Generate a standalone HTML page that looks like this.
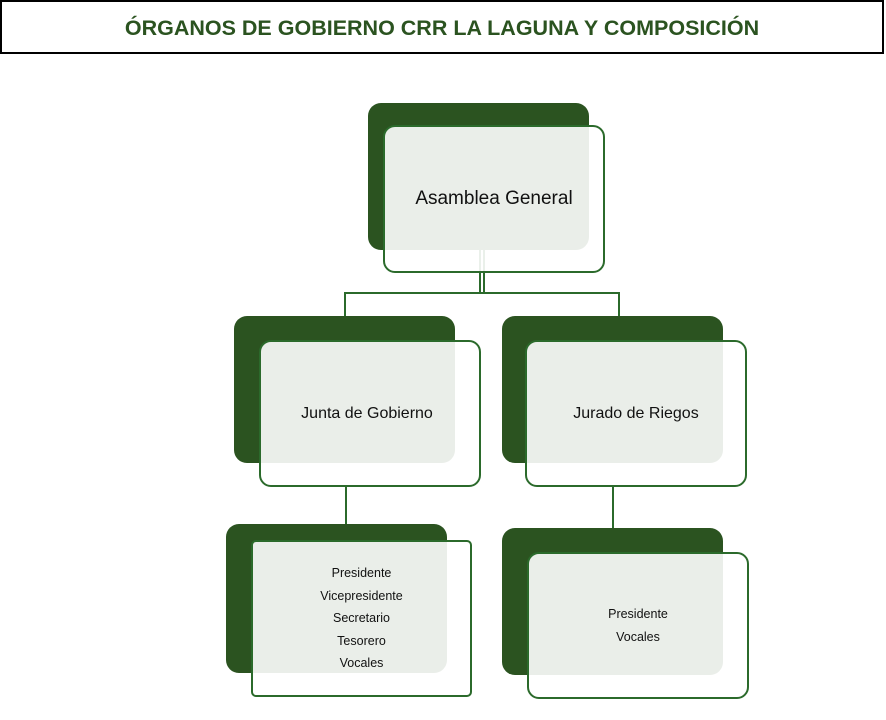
<!DOCTYPE html>
<html><head><meta charset="utf-8"><style>
body{margin:0;width:886px;height:720px;background:#fff;position:relative;overflow:hidden;font-family:"Liberation Sans",sans-serif}
.t{position:absolute;left:0;top:0;width:880px;height:50px;border:2px solid #000;text-align:center;line-height:52px;color:#2b5320;font-weight:bold;font-size:21.5px}
.d{position:absolute;background:#2b5320;border-radius:13px}
.f{position:absolute;background:rgba(255,255,255,0.9);border:2px solid #2b6a2b;border-radius:12px;box-sizing:border-box;display:flex;flex-direction:column;align-items:center;justify-content:center;color:#111;text-align:center}
.l{position:absolute;background:#2b6a2b}
.s{font-size:12.5px;line-height:22.5px}
</style></head><body>
<div class="t">ÓRGANOS DE GOBIERNO CRR LA LAGUNA Y COMPOSICIÓN</div>

<div class="l" style="left:479px;top:250px;width:2px;height:44px"></div>
<div class="l" style="left:483px;top:250px;width:2px;height:44px"></div>
<div class="l" style="left:344px;top:292px;width:276px;height:2px"></div>
<div class="l" style="left:344px;top:292px;width:2px;height:26px"></div>
<div class="l" style="left:618px;top:292px;width:2px;height:26px"></div>
<div class="l" style="left:345px;top:486px;width:2px;height:40px"></div>
<div class="l" style="left:612px;top:486px;width:2px;height:44px"></div>

<div class="d" style="left:368px;top:103px;width:221px;height:147px"></div>
<div class="f" style="left:383px;top:125px;width:222px;height:148px;font-size:19px;padding-left:0">Asamblea General</div>

<div class="d" style="left:234px;top:316px;width:221px;height:147px"></div>
<div class="f" style="left:259px;top:340px;width:222px;height:147px;font-size:16px;padding-right:6px">Junta de Gobierno</div>

<div class="d" style="left:502px;top:316px;width:221px;height:147px"></div>
<div class="f" style="left:525px;top:340px;width:222px;height:147px;font-size:16px">Jurado de Riegos</div>

<div class="d" style="left:226px;top:524px;width:221px;height:149px"></div>
<div class="f s" style="left:251px;top:540px;width:221px;height:157px;border-radius:5px;padding-bottom:0">Presidente<br>Vicepresidente<br>Secretario<br>Tesorero<br>Vocales</div>

<div class="d" style="left:502px;top:528px;width:221px;height:147px"></div>
<div class="f s" style="left:527px;top:552px;width:222px;height:147px;padding-bottom:0">Presidente<br>Vocales</div>
</body></html>
